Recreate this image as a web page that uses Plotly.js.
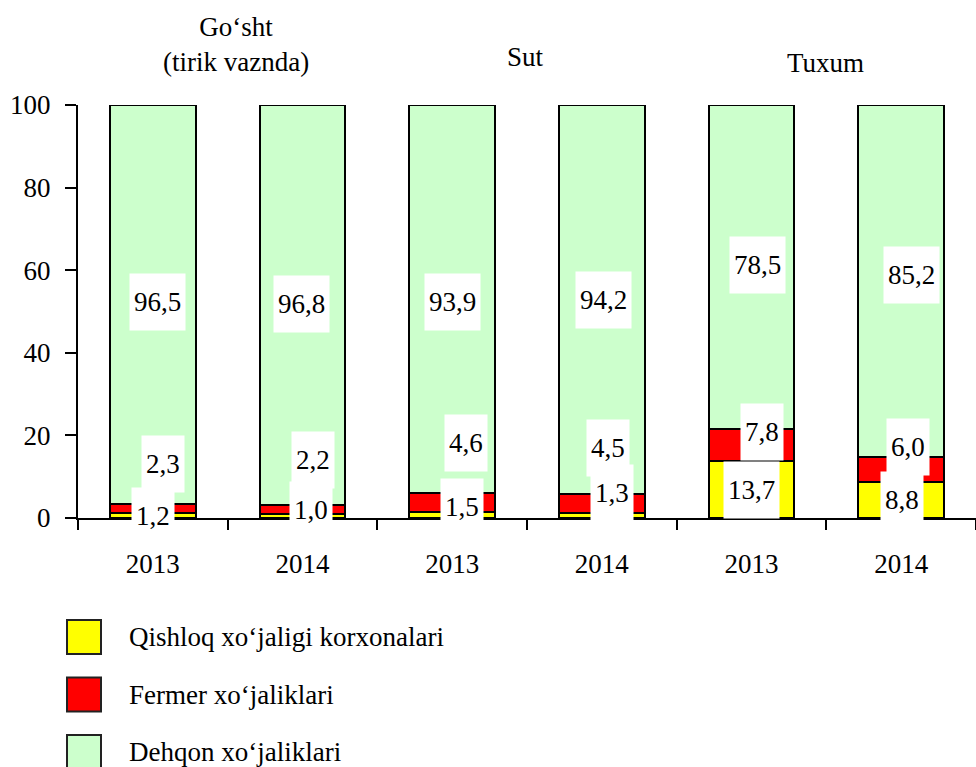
<!DOCTYPE html>
<html>
<head>
<meta charset="utf-8">
<script src="https://cdn.plot.ly/plotly-3.0.1.min.js"></script>
<style>
  html, body { margin: 0; padding: 0; background: #fff; }
  #chart { width: 976px; height: 767px; }
</style>
</head>
<body>
<div id="chart"></div>
<script>
// ---- data ----
const categories = ['2013', '2014', '2013', '2014', '2013', '2014'];
const groupTitles = ['Go‘sht<br>(tirik vaznda)', 'Sut', 'Tuxum'];
const seriesNames = ['Qishloq xo‘jaligi korxonalari', 'Fermer xo‘jaliklari', 'Dehqon xo‘jaliklari'];
const qishloq = [1.2, 1.0, 1.5, 1.3, 13.7, 8.8];
const fermer  = [2.3, 2.2, 4.6, 4.5, 7.8, 6.0];
const dehqon  = [96.5, 96.8, 93.9, 94.2, 78.5, 85.2];
const yTicks  = [0, 20, 40, 60, 80, 100];

// ---- styles ----
const colors = ['#FFFF00', '#FF0000', '#CCFFCC'];
const FONT = 'Liberation Serif, Times New Roman, serif';
const FS = 27;
// label pixel offsets (style only)
const labelShiftX = [[0, 8, 10, 10, 0, 1], [10, 10, 14, 6, 10, 7], [5, -1, 0, 2, 6, 10]];
const labelShiftY = [[0, 6, 8, 22, 0, 0], [44, 49, 59, 55, 13, 22], [2, 1, -3, 0, 2, 6]];
const titleShiftX = [8, -2, -1];
const titleShiftY = [61, 48, 42];

const M = {l: 78, r: 0, t: 105, b: 249};
const W = 976, H = 767;
const plotW = W - M.l - M.r, plotH = H - M.t - M.b;
const px = x => (x - M.l) / plotW;
const py = y => (H - M.b - y) / plotH;

const xs = categories.map((c, i) => i);
const series = [qishloq, fermer, dehqon];

const traces = series.map((vals, s) => ({
  type: 'bar',
  x: xs,
  y: vals,
  name: seriesNames[s],
  marker: {color: colors[s], line: {color: '#000', width: 2}},
  hoverinfo: 'y+name',
  showlegend: false
}));

const fmt = v => v.toFixed(1).replace('.', ',');
const annotations = [];
// value labels
xs.forEach((x, i) => {
  let base = 0;
  series.forEach((vals, s) => {
    const mid = base + vals[i] / 2;
    base += vals[i];
    annotations.push({
      x: x, y: mid, xref: 'x', yref: 'y',
      text: fmt(vals[i]), showarrow: false,
      bgcolor: '#ffffff', borderpad: 4, height: 48, valign: 'middle',
      xshift: labelShiftX[s][i], yshift: labelShiftY[s][i],
      font: {family: FONT, size: FS, color: '#000'}
    });
  });
});
// group titles
groupTitles.forEach((t, g) => {
  annotations.push({
    x: 2 * g + 0.5, y: 1, xref: 'x', yref: 'paper',
    text: t, showarrow: false, yanchor: 'middle', xanchor: 'center',
    xshift: titleShiftX[g], yshift: titleShiftY[g],
    font: {family: FONT, size: FS, color: '#000'}
  });
});
// custom legend
const legLeft = 67, legTop = 620, legGap = 57.5, legBox = 34, legText = 127;
const shapes = [];
seriesNames.forEach((n, s) => {
  const top = legTop + s * legGap;
  shapes.push({
    type: 'rect', xref: 'paper', yref: 'paper',
    x0: px(legLeft), x1: px(legLeft + legBox),
    y0: py(top + legBox), y1: py(top),
    fillcolor: colors[s], line: {color: '#222', width: 2}
  });
  annotations.push({
    x: px(legText), y: py(top + legBox / 2), xref: 'paper', yref: 'paper',
    text: n, showarrow: false, xanchor: 'left', yanchor: 'middle',
    font: {family: FONT, size: FS, color: '#000'}
  });
});

const boundaries = xs.map(i => i - 0.5).concat([xs.length - 0.5]);

const layout = {
  width: W, height: H,
  margin: M,
  barmode: 'stack',
  bargap: 0.427,
  paper_bgcolor: '#fff',
  plot_bgcolor: '#fff',
  font: {family: FONT, size: FS, color: '#000'},
  showlegend: false,
  xaxis: {
    range: [-0.5, xs.length - 0.5],
    tickmode: 'array', tickvals: xs, ticktext: categories,
    ticks: '', showgrid: false, zeroline: false,
    showline: true, linecolor: '#000', linewidth: 2,
    ticklabelstandoff: 21,
    tickfont: {family: FONT, size: FS, color: '#000'},
    minor: {tickmode: 'array', tickvals: boundaries, ticks: 'outside', ticklen: 10, tickwidth: 2, tickcolor: '#000', showgrid: false},
    fixedrange: true
  },
  yaxis: {
    range: [0, 100],
    tickmode: 'array', tickvals: yTicks,
    ticks: 'outside', ticklen: 11, tickwidth: 2, tickcolor: '#000',
    showgrid: false, zeroline: false,
    showline: true, linecolor: '#000', linewidth: 2,
    ticklabelstandoff: 9,
    tickfont: {family: FONT, size: FS, color: '#000'},
    fixedrange: true
  },
  annotations: annotations,
  shapes: shapes
};

Plotly.newPlot('chart', traces, layout, {displayModeBar: false, staticPlot: true});
</script>
</body>
</html>
